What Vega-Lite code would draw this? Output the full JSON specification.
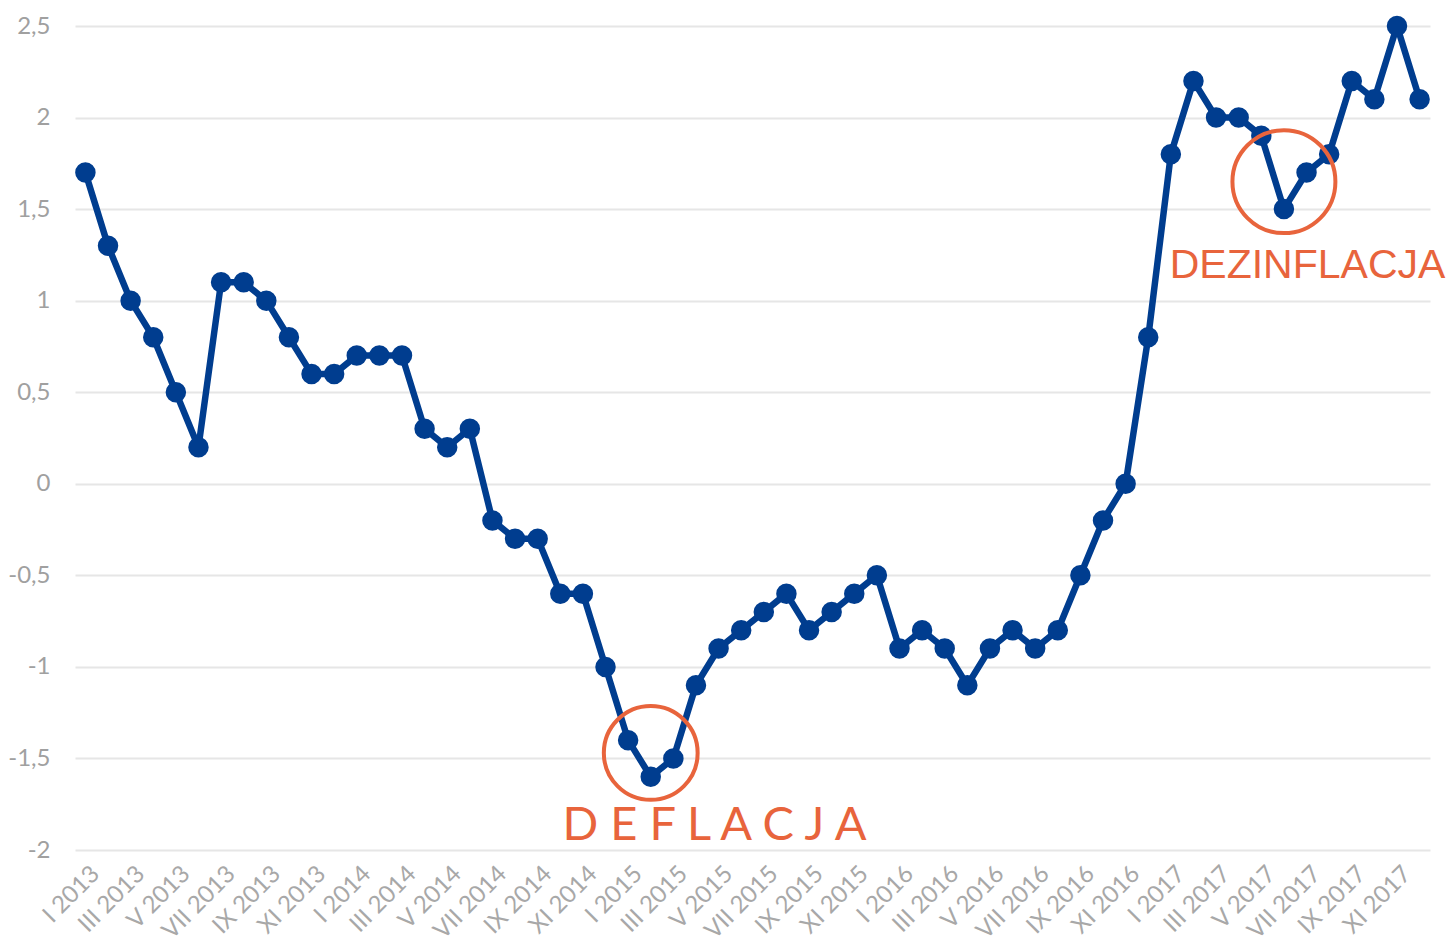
{
  "$schema": "https://vega.github.io/schema/vega-lite/v6.json",
  "width": 1355,
  "height": 824,
  "autosize": {"type": "none"},
  "padding": {"left": 75, "top": 26, "right": 23, "bottom": 102},
  "background": "#ffffff",
  "config": {"view": {"stroke": null}},
  "data": {"values": [
    {"month": "I 2013", "cpi": 1.7}, {"month": "II 2013", "cpi": 1.3}, {"month": "III 2013", "cpi": 1.0}, {"month": "IV 2013", "cpi": 0.8},
    {"month": "V 2013", "cpi": 0.5}, {"month": "VI 2013", "cpi": 0.2}, {"month": "VII 2013", "cpi": 1.1}, {"month": "VIII 2013", "cpi": 1.1},
    {"month": "IX 2013", "cpi": 1.0}, {"month": "X 2013", "cpi": 0.8}, {"month": "XI 2013", "cpi": 0.6}, {"month": "XII 2013", "cpi": 0.6},
    {"month": "I 2014", "cpi": 0.7}, {"month": "II 2014", "cpi": 0.7}, {"month": "III 2014", "cpi": 0.7}, {"month": "IV 2014", "cpi": 0.3},
    {"month": "V 2014", "cpi": 0.2}, {"month": "VI 2014", "cpi": 0.3}, {"month": "VII 2014", "cpi": -0.2}, {"month": "VIII 2014", "cpi": -0.3},
    {"month": "IX 2014", "cpi": -0.3}, {"month": "X 2014", "cpi": -0.6}, {"month": "XI 2014", "cpi": -0.6}, {"month": "XII 2014", "cpi": -1.0},
    {"month": "I 2015", "cpi": -1.4}, {"month": "II 2015", "cpi": -1.6}, {"month": "III 2015", "cpi": -1.5}, {"month": "IV 2015", "cpi": -1.1},
    {"month": "V 2015", "cpi": -0.9}, {"month": "VI 2015", "cpi": -0.8}, {"month": "VII 2015", "cpi": -0.7}, {"month": "VIII 2015", "cpi": -0.6},
    {"month": "IX 2015", "cpi": -0.8}, {"month": "X 2015", "cpi": -0.7}, {"month": "XI 2015", "cpi": -0.6}, {"month": "XII 2015", "cpi": -0.5},
    {"month": "I 2016", "cpi": -0.9}, {"month": "II 2016", "cpi": -0.8}, {"month": "III 2016", "cpi": -0.9}, {"month": "IV 2016", "cpi": -1.1},
    {"month": "V 2016", "cpi": -0.9}, {"month": "VI 2016", "cpi": -0.8}, {"month": "VII 2016", "cpi": -0.9}, {"month": "VIII 2016", "cpi": -0.8},
    {"month": "IX 2016", "cpi": -0.5}, {"month": "X 2016", "cpi": -0.2}, {"month": "XI 2016", "cpi": 0.0}, {"month": "XII 2016", "cpi": 0.8},
    {"month": "I 2017", "cpi": 1.8}, {"month": "II 2017", "cpi": 2.2}, {"month": "III 2017", "cpi": 2.0}, {"month": "IV 2017", "cpi": 2.0},
    {"month": "V 2017", "cpi": 1.9}, {"month": "VI 2017", "cpi": 1.5}, {"month": "VII 2017", "cpi": 1.7}, {"month": "VIII 2017", "cpi": 1.8},
    {"month": "IX 2017", "cpi": 2.2}, {"month": "X 2017", "cpi": 2.1}, {"month": "XI 2017", "cpi": 2.5}, {"month": "XII 2017", "cpi": 2.1}
  ]},
  "encoding": {
    "x": {
      "field": "month", "type": "ordinal", "sort": null,
      "scale": {"type": "point", "padding": 0.46},
      "axis": {
        "title": null, "domain": false, "ticks": false, "grid": false,
        "labelAngle": -45, "labelAlign": "right", "labelBaseline": "middle",
        "labelPadding": 20, "labelOffset": 10, "labelFont": "Lato", "labelFontSize": 24, "labelColor": "#a8a8a8",
        "labelOverlap": false,
        "labelExpr": "indexof(['I','III','V','VII','IX','XI'], split(datum.value,' ')[0]) >= 0 ? datum.value : ''"
      }
    }
  },
  "layer": [
    {
      "mark": {"type": "line", "color": "#003d8f", "strokeWidth": 6.5, "strokeJoin": "round"},
      "encoding": {
        "y": {
          "field": "cpi", "type": "quantitative",
          "scale": {"domain": [-2, 2.5], "nice": false, "zero": false},
          "axis": {
            "title": null, "domain": false, "ticks": false,
            "values": [-2, -1.5, -1, -0.5, 0, 0.5, 1, 1.5, 2, 2.5],
            "gridColor": "#e6e6e6", "gridWidth": 2,
            "labelPadding": 25, "labelFont": "Lato", "labelFontSize": 24, "labelColor": "#a0a0a0",
            "labelExpr": "replace(replace(format(datum.value, '~f'), '.', ','), '\u2212', '-')"
          }
        }
      }
    },
    {
      "mark": {"type": "point", "filled": true, "shape": "circle", "color": "#003d8f", "size": 420, "opacity": 1},
      "encoding": {"y": {"field": "cpi", "type": "quantitative"}}
    },
    {
      "transform": [{"filter": "datum.month === 'II 2015'"}],
      "mark": {"type": "point", "shape": "circle", "filled": false, "stroke": "#e8643c", "strokeWidth": 4, "size": 8800, "opacity": 1},
      "encoding": {"y": {"datum": -1.47}}
    },
    {
      "transform": [{"filter": "datum.month === 'VI 2017'"}],
      "mark": {"type": "point", "shape": "circle", "filled": false, "stroke": "#e8643c", "strokeWidth": 4, "size": 10600, "opacity": 1},
      "encoding": {"y": {"datum": 1.65}}
    },
    {
      "transform": [{"filter": "datum.month === 'V 2015'"}],
      "mark": {"type": "text", "text": "D E F L A C J A", "font": "Lato", "fontSize": 47, "color": "#e8643c", "align": "center", "baseline": "middle", "dx": -4},
      "encoding": {"y": {"datum": -1.87}}
    },
    {
      "transform": [{"filter": "datum.month === 'VII 2017'"}],
      "mark": {"type": "text", "text": "DEZINFLACJA", "font": "Liberation Sans", "fontSize": 41, "color": "#e8643c", "align": "center", "baseline": "middle", "dx": 1},
      "encoding": {"y": {"datum": 1.19}}
    }
  ]
}
